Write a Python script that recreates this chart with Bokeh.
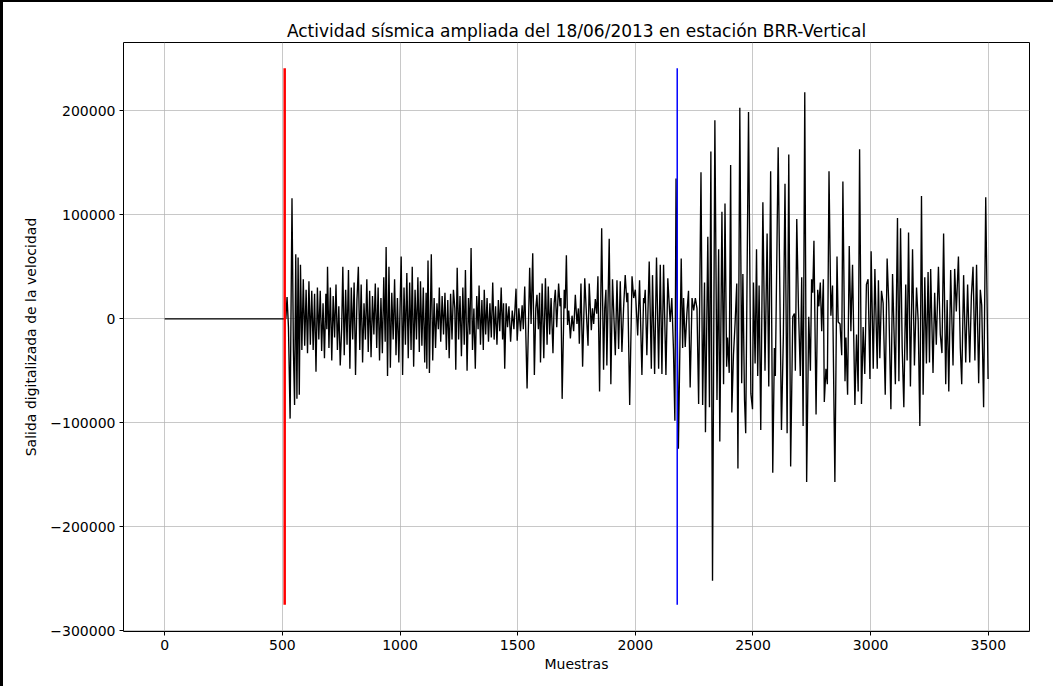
from bokeh.plotting import figure
from bokeh.models import Range1d, FixedTicker
from bokeh.embed import file_html
from bokeh.resources import INLINE

titulo = "Actividad sísmica ampliada del 18/06/2013 en estación BRR-Vertical"
etiqueta_x = "Muestras"
etiqueta_y = "Salida digitalizada de la velocidad"
ticks_x = [0, 500, 1000, 1500, 2000, 2500, 3000, 3500]
ticks_y = [-300000, -200000, -100000, 0, 100000, 200000]

# vertical markers (P and S arrivals)
marca_p_x = [510]
marca_s_x = [2178]
marca_ymin = [-275000]
marca_ymax = [241000]

# trace: (sample, amplitude in thousands)
tramo_a = [(0, 0), (510, 0)]
tramo_b = [(515, 0), (520, 21), (526, -8), (533, -96), (541, 116), (547, -30), (552, -83), (557, 62),
           (562, -77), (567, 59), (572, -73), (577, 52), (583, -30), (589, 38), (595, -26), (601, 28),
           (607, -33), (613, 36), (619, -25), (625, 27), (631, -30), (637, 24), (643, -51), (649, 30),
           (655, -20), (661, 27), (667, -31), (673, 15), (679, -38), (685, 24), (689, -10), (692, 50),
           (698, -28), (704, 30), (710, -40), (716, 22), (722, -18), (728, 33), (734, -30), (740, 12),
           (746, -45), (752, -10), (757, 50), (763, -35), (769, 28), (775, -25), (781, 47), (787, -48),
           (793, 30), (799, -20), (805, 35), (811, -54), (817, 18), (823, 50), (829, -30), (835, 33),
           (841, -42), (847, 15), (853, -20), (859, 38), (865, -32), (871, 27), (877, -37), (883, 22),
           (889, -15), (895, 34), (901, -28), (907, 30), (913, -40), (919, 20), (925, -33), (931, 40),
           (937, -22), (941, 69), (947, -55), (953, 50), (959, -47)]
tramo_c = [(965, 25), (971, -20), (977, 38), (983, -35), (989, 20), (995, -42), (1005, 60), (1011, -54),
           (1017, 30), (1023, -25), (1029, 44), (1035, -38), (1041, 35), (1047, -30), (1052, 50), (1058, -46),
           (1064, 28), (1070, -20), (1076, 40), (1082, -32), (1087, 36), (1093, -26), (1099, 30), (1105, -42),
           (1111, 25), (1114, -48), (1119, 56), (1125, -52), (1133, 62), (1139, -40), (1145, 20), (1151, -28),
           (1157, 15), (1163, -10), (1167, 30), (1173, -22), (1179, 22), (1185, -15), (1191, 25), (1197, -30),
           (1203, 18), (1209, -38), (1215, 24), (1221, -20), (1227, 28), (1233, 10), (1237, -49), (1243, 49),
           (1249, -20), (1255, 22), (1261, -36), (1267, 30), (1273, -25), (1278, 47), (1285, -50), (1291, 20),
           (1297, -15), (1302, 68), (1308, -30), (1314, 10), (1320, -48), (1326, 22), (1332, -10), (1336, 32),
           (1342, -25), (1348, 18), (1354, -30), (1358, 28), (1364, -15), (1370, 20), (1376, -22), (1382, 15),
           (1388, -18), (1394, 35), (1400, -20), (1406, 12), (1412, -25), (1418, 18), (1424, -12), (1430, 30),
           (1436, -20), (1440, 15), (1445, -48)]
tramo_d = [(1451, 15), (1457, -8), (1463, 12), (1470, -22), (1477, 8), (1484, -10), (1493, 29), (1498, -21),
           (1505, 10), (1512, -12), (1519, 13), (1524, -10), (1530, 31), (1540, -67), (1551, 49), (1557, -5),
           (1564, 63), (1571, -54), (1577, 10), (1582, 23), (1588, -10), (1593, 25), (1597, -42), (1604, 34),
           (1611, -38), (1618, 39), (1625, -25), (1630, 31), (1636, -15), (1642, 20), (1650, -33), (1655, 15),
           (1660, 28), (1666, -8), (1674, 34), (1680, 12), (1684, 20), (1689, -77), (1698, 28), (1702, 10),
           (1707, 61), (1712, -6), (1717, 8), (1724, -19), (1731, 3), (1738, -12), (1745, 23), (1752, -5),
           (1758, 10), (1762, -24), (1769, 34), (1776, -46), (1785, 39), (1792, 5), (1799, -26), (1804, 34),
           (1813, -11), (1818, 10), (1823, -5), (1830, 19), (1836, 5), (1841, 41), (1848, -70), (1857, 87),
           (1865, -49), (1870, 10), (1875, 28), (1879, -45), (1889, 77), (1896, -63), (1903, 38), (1915, -35)]
tramo_e = [(1922, 37), (1929, -29), (1936, 36), (1943, -32), (1950, 10), (1957, 42), (1964, 16), (1968, 25),
           (1976, -83), (1986, 41), (1993, 20), (2000, 28), (2010, -16), (2018, 37), (2028, -54), (2035, 20),
           (2038, 15), (2042, 28), (2049, -35), (2059, 55), (2068, -48), (2073, 42), (2082, -53), (2090, 59),
           (2099, -48), (2106, 52), (2113, -53), (2120, 52), (2130, -54), (2138, 39), (2148, -3), (2155, 20),
           (2162, -29), (2168, -98), (2173, 135), (2183, -125)]
tramo_f = [(2195, 58), (2201, -28), (2205, 20), (2212, -27), (2219, 5), (2226, 27), (2233, -66), (2241, 20),
           (2248, 8), (2255, 20), (2262, 10), (2269, -82), (2279, 141), (2286, -83), (2294, 35), (2298, -109),
           (2308, 79), (2315, -85), (2321, 161), (2328, -252), (2338, 191), (2347, -78), (2354, 67), (2359, -118),
           (2368, 103), (2375, -63), (2381, 111), (2388, -46), (2392, -18), (2399, -52), (2405, 148), (2410, -90),
           (2417, -35), (2424, -4), (2431, 34), (2436, -144), (2444, 203)]
tramo_g = [(2452, -62), (2457, 43), (2464, -78), (2469, -110), (2481, 199), (2491, -72), (2498, -87), (2502, 35),
           (2509, -43), (2515, 67), (2520, -55), (2526, 32), (2533, -107), (2542, 112), (2551, -50), (2560, 82),
           (2567, -65), (2575, 142), (2584, -148), (2591, -28), (2595, -55), (2607, 165), (2621, -107), (2629, -17),
           (2636, 130), (2645, -110), (2652, 158), (2660, -142), (2669, 2), (2676, 5), (2680, -50), (2686, 96),
           (2693, 12), (2701, -55), (2707, 40), (2713, -103), (2720, 218), (2728, -157), (2737, 2), (2744, -50),
           (2749, 38), (2754, 25), (2759, 75), (2768, -92), (2775, 28), (2780, 12), (2786, 35), (2792, -12),
           (2799, 38), (2803, -80), (2810, -48), (2816, -63), (2823, 142), (2831, 3), (2838, 32), (2848, -157),
           (2857, 60), (2862, -3), (2870, -5), (2877, -35), (2882, 132), (2891, -60), (2895, -18), (2902, -73),
           (2909, 70), (2916, -12), (2923, 52), (2933, -83), (2940, -15), (2947, -70), (2953, 163)]
tramo_h = [(2961, -82), (2968, -8), (2975, -53), (2982, 33), (2989, 38), (2997, -58), (3002, 65), (3011, -48),
           (3018, 48), (3028, -48), (3033, 37), (3039, -38), (3046, 27), (3053, 15), (3062, -73), (3070, 58),
           (3077, 15), (3086, -87), (3093, 43), (3100, -18), (3105, -63), (3114, 97), (3120, -60), (3127, 87),
           (3134, -28), (3141, -85), (3149, 33), (3155, -40), (3161, 83), (3169, -65), (3178, 67), (3186, -45),
           (3195, 30), (3202, -2), (3209, -103), (3216, 118), (3223, -73), (3230, 40), (3237, -43), (3244, 45),
           (3250, -42), (3255, 48), (3265, -52), (3272, 25), (3279, -25), (3288, 50), (3296, -15), (3303, -33),
           (3310, 82), (3319, -63), (3325, 18), (3332, -70), (3340, 47), (3350, -45), (3357, 48), (3364, 7),
           (3373, 60), (3381, -28), (3387, -63), (3395, 42), (3404, -42), (3412, 33), (3421, -42), (3428, 22),
           (3435, 50), (3443, -40), (3450, 52), (3459, -62), (3466, 28), (3472, 13), (3480, -85), (3489, 117),
           (3499, -58)]

traza = tramo_a + tramo_b + tramo_c + tramo_d + tramo_e + tramo_f + tramo_g + tramo_h
muestras = [m for m, _ in traza]
amplitud = [v * 1000 for _, v in traza]

p = figure(width=1053, height=686, output_backend="svg", toolbar_location=None,
           x_range=Range1d(-175, 3675), y_range=Range1d(-300750, 265750),
           min_border_left=123, min_border_right=24, min_border_top=42, min_border_bottom=55,
           title=titulo)
p.styles = {"box-shadow": "inset 3px 2px 0 0 #000"}
p.border_fill_color = None
p.background_fill_color = "white"

p.title.align = "center"
p.title.text_font = "DejaVu Sans"
p.title.text_font_size = "17px"
p.title.text_font_style = "normal"
p.title.text_color = "black"
p.title.standoff = 4

p.outline_line_color = "black"
p.outline_line_width = 1

for ax in (p.xaxis[0], p.yaxis[0]):
    ax.axis_line_color = None
    ax.major_tick_line_color = "black"
    ax.major_tick_out = 4
    ax.major_tick_in = 0
    ax.minor_tick_line_color = None
    ax.major_label_text_font = "DejaVu Sans"
    ax.major_label_text_font_size = "14px"
    ax.major_label_text_color = "black"
    ax.axis_label_text_font = "DejaVu Sans"
    ax.axis_label_text_font_size = "14px"
    ax.axis_label_text_font_style = "normal"
    ax.axis_label_text_color = "black"
    ax.major_label_standoff = 4

p.xaxis.ticker = FixedTicker(ticks=ticks_x)
p.yaxis.ticker = FixedTicker(ticks=ticks_y)
p.yaxis.major_label_overrides = {v: str(v).replace("-", "\u2212") for v in ticks_y}
p.xaxis.axis_label = etiqueta_x
p.yaxis.axis_label = etiqueta_y
p.xaxis.axis_label_standoff = 3
p.yaxis.axis_label_standoff = 8

p.grid.grid_line_color = "#b0b0b0"
p.grid.grid_line_alpha = 0.7
p.grid.grid_line_width = 1

p.line(muestras, amplitud, color="black", line_width=1.35)
p.segment(x0=marca_p_x, y0=marca_ymin, x1=marca_p_x, y1=marca_ymax, color="red", line_width=2.5)
p.segment(x0=marca_s_x, y0=marca_ymin, x1=marca_s_x, y1=marca_ymax, color="blue", line_width=1.5)

open("out.html", "w").write(file_html(p, INLINE))
